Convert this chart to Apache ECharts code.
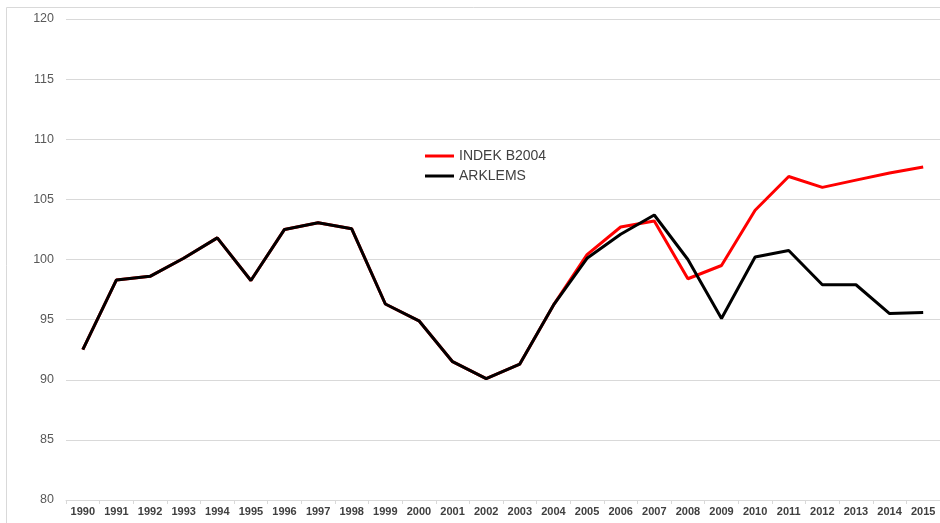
<!DOCTYPE html>
<html>
<head>
<meta charset="utf-8">
<script src="https://cdn.jsdelivr.net/npm/echarts@6/dist/echarts.min.js"></script>
<style>
  html, body { margin: 0; padding: 0; background: #fff; }
  #chart1 { width: 940px; height: 523px; }
</style>
</head>
<body>
<div id="chart1"></div>
<script>
var years = ['1990', '1991', '1992', '1993', '1994', '1995', '1996', '1997', '1998', '1999',
  '2000', '2001', '2002', '2003', '2004', '2005', '2006', '2007', '2008', '2009',
  '2010', '2011', '2012', '2013', '2014', '2015'];

var indekB2004 = [92.5, 98.3, 98.6, 100.1, 101.8, 98.25, 102.5, 103.05, 102.55, 96.3,
  94.9, 91.5, 90.1, 91.3, 96.2, 100.4, 102.7, 103.2, 98.4, 99.5,
  104.1, 106.9, 106.0, 106.6, 107.2, 107.7];

var arklems = [92.5, 98.3, 98.6, 100.1, 101.8, 98.25, 102.5, 103.05, 102.55, 96.3,
  94.9, 91.5, 90.1, 91.3, 96.2, 100.1, 102.1, 103.7, 100.0, 95.1,
  100.2, 100.75, 97.9, 97.9, 95.5, 95.6];

var seriesNames = ['INDEK B2004', 'ARKLEMS'];

var chartDom = document.getElementById('chart1');
var myChart = echarts.init(chartDom);
var option;

option = {
  animation: false,
  textStyle: { fontFamily: 'Liberation Sans' },
  graphic: [
    {
      type: 'rect',
      shape: { x: 6.5, y: 7.5, width: 960, height: 540 },
      style: { fill: 'none', stroke: '#d9d9d9', lineWidth: 1 },
      silent: true
    }
  ],
  grid: {
    left: 66,
    right: 0,
    top: 19,
    bottom: 23
  },
  legend: {
    orient: 'vertical',
    left: 420,
    top: 144,
    icon: 'rect',
    itemWidth: 29,
    itemHeight: 3,
    itemGap: 6,
    data: seriesNames,
    textStyle: { fontSize: 14, color: '#404040', fontFamily: 'Liberation Sans' }
  },
  xAxis: {
    type: 'category',
    data: years,
    boundaryGap: true,
    axisLine: { lineStyle: { color: '#d9d9d9' } },
    axisTick: { show: true, length: 4, lineStyle: { color: '#d9d9d9' } },
    axisLabel: {
      interval: 0,
      margin: 6,
      fontSize: 11,
      fontWeight: 'bold',
      color: '#404040'
    }
  },
  yAxis: {
    type: 'value',
    min: 80,
    max: 120,
    interval: 5,
    axisLine: { show: false },
    axisTick: { show: false },
    axisLabel: { margin: 12, fontSize: 12.5, color: '#595959' },
    splitLine: { lineStyle: { color: '#d9d9d9' } }
  },
  series: [
    {
      name: seriesNames[0],
      type: 'line',
      data: indekB2004,
      symbol: 'none',
      color: '#ff0000',
      lineStyle: { width: 3, color: '#ff0000' },
      z: 2
    },
    {
      name: seriesNames[1],
      type: 'line',
      data: arklems,
      symbol: 'none',
      color: '#000000',
      lineStyle: { width: 3, color: '#000000' },
      z: 3
    }
  ]
};

option && myChart.setOption(option);
window.onresize = function() {
  myChart.resize();
};
</script>
</body>
</html>
